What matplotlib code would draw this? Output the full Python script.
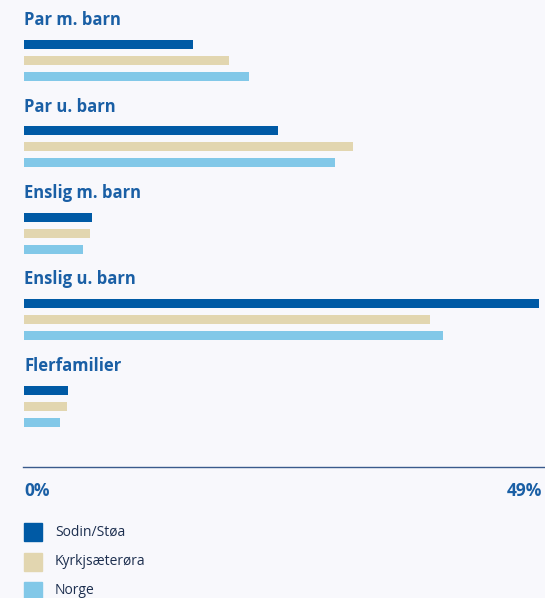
import matplotlib.pyplot as plt
from matplotlib.patches import Rectangle
from matplotlib.lines import Line2D

categories = ['Par m. barn', 'Par u. barn', 'Enslig m. barn', 'Enslig u. barn', 'Flerfamilier']
series = ['Sodin/Støa', 'Kyrkjsæterøra', 'Norge']
sodin = [16.1, 24.2, 6.5, 49.0, 4.2]
kyrkj = [19.5, 31.3, 6.3, 38.6, 4.1]
norge = [21.4, 29.6, 5.6, 39.9, 3.4]
tick_labels = ['0%', '49%']

colors = ['#005aa5', '#e2d6b0', '#82c8e8']
title_col = '#1a5fa5'
bg = '#f8f8fc'
W, H = 545, 598

plt.rcParams['font.family'] = ['Open Sans', 'DejaVu Sans']

fig = plt.figure(figsize=(W / 100, H / 100), dpi=100)
fig.patch.set_facecolor(bg)

# axes in pixel-like units vertically: top 0 to axis line at 467
left, right, bottom_px = 24, 539, 467
ax = fig.add_axes([left / W, 1 - bottom_px / H, (right - left) / W, bottom_px / H])
ax.set_facecolor(bg)
ax.set_xlim(0, 49)
ax.set_ylim(bottom_px, 0)
ax.axis('off')

for i, cat in enumerate(categories):
    base = 20 + 86.5 * i
    ax.text(0, base, cat, fontsize=12, fontweight='bold', color=title_col,
            va='center', ha='left')
    for j, vals in enumerate([sodin, kyrkj, norge]):
        ax.barh(base + 24 + 16 * j, vals[i], height=9, color=colors[j], left=0)

# axis line
fig.add_artist(Line2D([23 / W, 1], [1 - 467 / H] * 2, color='#3a5a8c', lw=1))
fig.text(24 / W, 1 - 491 / H, tick_labels[0], fontsize=12.5, fontweight='bold',
         color=title_col, va='center', ha='left')
fig.text(542 / W, 1 - 491 / H, tick_labels[1], fontsize=12.5, fontweight='bold',
         color=title_col, va='center', ha='right')

# legend
for j, name in enumerate(series):
    y = 532 + 29.5 * j
    fig.add_artist(Rectangle((24 / W, 1 - (y + 9) / H), 18 / W, 18 / H,
                             color=colors[j], transform=fig.transFigure))
    fig.text(55 / W, 1 - y / H, name, fontsize=10, color='#1d2f4f',
             va='center', ha='left')

fig.savefig('out.png', dpi=100, facecolor=bg)
